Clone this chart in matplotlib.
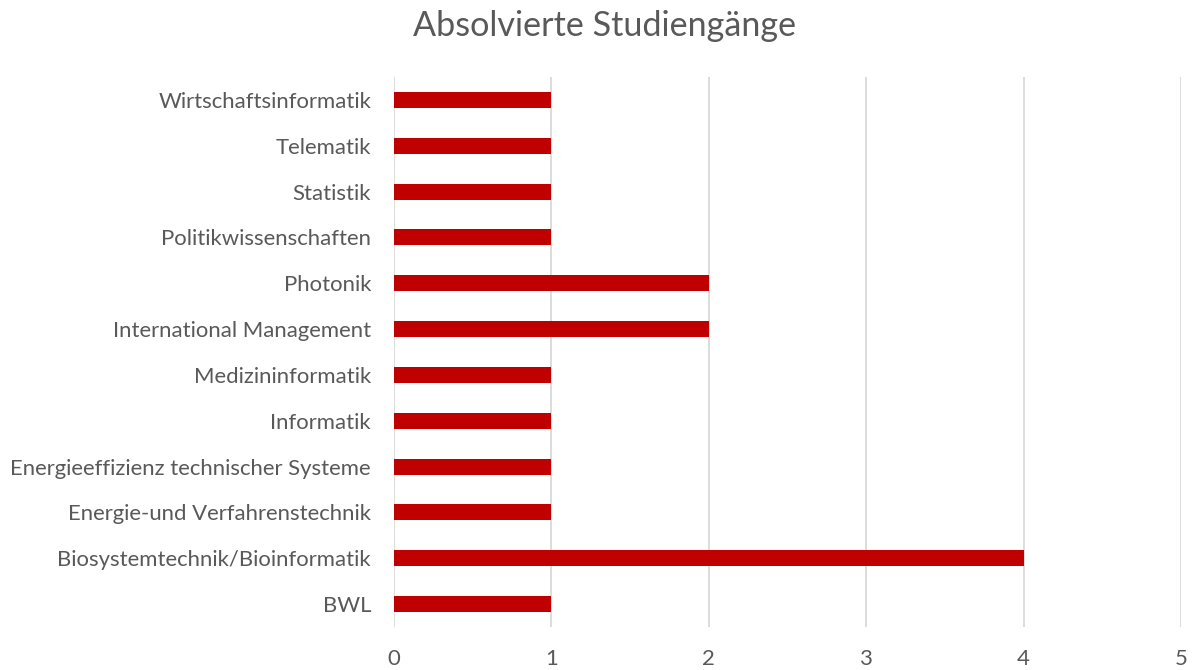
import matplotlib
import matplotlib.pyplot as plt

matplotlib.use("Agg")

# bottom to top, as drawn
studiengaenge = [
    "BWL",
    "Biosystemtechnik/Bioinformatik",
    "Energie-und Verfahrenstechnik",
    "Energieeffizienz technischer Systeme",
    "Informatik",
    "Medizininformatik",
    "International Management",
    "Photonik",
    "Politikwissenschaften",
    "Statistik",
    "Telematik",
    "Wirtschaftsinformatik",
]
anzahl = [1, 4, 1, 1, 1, 1, 2, 2, 1, 1, 1, 1]
x_ticks = [0, 1, 2, 3, 4, 5]

text_grey = "#595959"
plt.rcParams["font.family"] = ["Lato", "DejaVu Sans"]

fig = plt.figure(figsize=(11.92, 6.70), dpi=100)
ax = fig.add_axes([0.3305, 0.0642, 0.6603, 0.8208])

ax.barh(range(len(studiengaenge)), anzahl, height=0.35, color="#C00000", zorder=3)

ax.set_xlim(0, 5)
ax.set_ylim(-0.5, len(studiengaenge) - 0.5)
ax.set_xticks(x_ticks)
ax.set_yticks(range(len(studiengaenge)))
ax.set_yticklabels(studiengaenge)
ax.grid(axis="x", color="#D9D9D9", linewidth=1.3, zorder=0)
ax.tick_params(axis="both", length=0, labelsize=15.9, labelcolor=text_grey)
ax.tick_params(axis="x", pad=15.5)
ax.tick_params(axis="y", pad=16.5)
for spine in ax.spines.values():
    spine.set_visible(False)

fig.suptitle("Absolvierte Studiengänge", fontsize=24.6, color=text_grey,
             x=0.507, y=0.985)

fig.savefig("out.png", dpi=100)
